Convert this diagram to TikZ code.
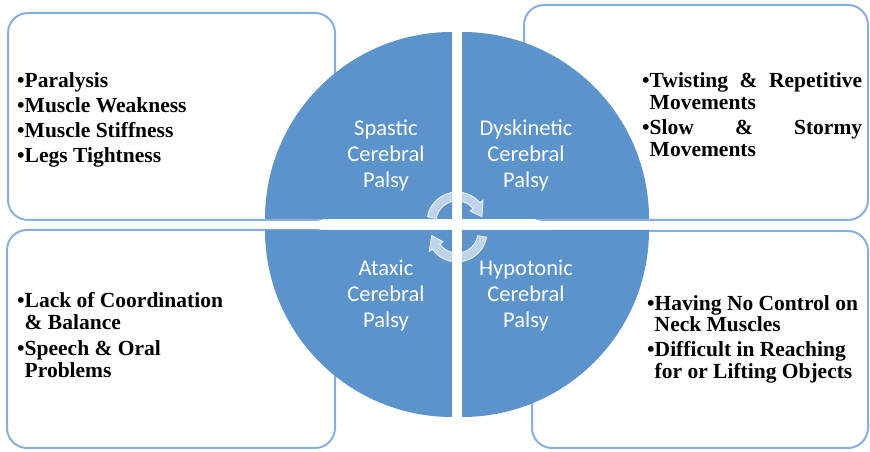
\documentclass[tikz,border=0pt]{standalone}
\usepackage{fontspec}
\setmainfont{Liberation Serif}
\newfontfamily\calib{Carlito}
\definecolor{qblue}{RGB}{92,147,203}
\definecolor{bline}{RGB}{135,176,222}
\begin{document}
\begin{tikzpicture}[x=1pt,y=1pt,
  infobox/.style={draw=bline,line width=2pt,fill=white,rounded corners=20pt,inner sep=0pt},
  quad/.style={fill=qblue},
  qtext/.style={text=white,font=\calib\fontsize{22.5}{26}\selectfont,align=center,inner sep=0pt},
  itext/.style={anchor=base west,inner sep=0pt,font=\bfseries\fontsize{21.5}{25}\selectfont},
  cyc/.style={fill=white,fill opacity=0.6,draw=white,draw opacity=0.9,line width=0.8pt}]
\useasboundingbox (0,0) rectangle (870,452);
\fill[white] (0,0) rectangle (870,452);
% boxes
\node[infobox,minimum width=327pt,minimum height=207pt] (boxTL) at (171.5,335.5) {};
\node[infobox,minimum width=344pt,minimum height=215pt] (boxTR) at (696,339.5) {};
\node[infobox,minimum width=328pt,minimum height=218pt] (boxBL) at (171,113) {};
\node[infobox,minimum width=336pt,minimum height=217pt] (boxBR) at (700,112.5) {};
% quadrants
\fill[quad] (452,233) -- (265,233) arc[start angle=180,end angle=90,radius=187] -- cycle;
\fill[quad] (462,233) -- (462,420) arc[start angle=90,end angle=0,radius=187] -- cycle;
\fill[quad] (452,222) -- (452,35) arc[start angle=270,end angle=180,radius=187] -- cycle;
\fill[quad] (462,222) -- (649,222) arc[start angle=0,end angle=-90,radius=187] -- cycle;
% quadrant labels
\node[qtext] (spastic) at (386,296) {Spastic\\Cerebral\\Palsy};
\node[qtext] (dysk) at (526,296) {Dyskinetic\\Cerebral\\Palsy};
\node[qtext] (ataxic) at (386,156) {Ataxic\\Cerebral\\Palsy};
\node[qtext] (hypo) at (526,156) {Hypotonic\\Cerebral\\Palsy};
% cycle arrows
\begin{scope}[shift={(457,230)}]
\path[cyc] (170:30) arc[start angle=170,end angle=40,radius=30] -- (40:34) -- (12:25.5) -- (40:17) -- (40:21) arc[start angle=40,end angle=170,radius=21] -- cycle;
\end{scope}
\begin{scope}[shift={(457,220)}]
\path[cyc] (-10:30) arc[start angle=-10,end angle=-145,radius=30] -- (-145:34) -- (-172:25.5) -- (-145:17) -- (-145:21) arc[start angle=-145,end angle=-10,radius=21] -- cycle;
\end{scope}
% top-left texts
\node[itext] (tl1) at (17,364) {\textbullet Paralysis};
\node[itext] (tl2) at (17,339) {\textbullet Muscle Weakness};
\node[itext] (tl3) at (17,314) {\textbullet Muscle Stiffness};
\node[itext] (tl4) at (17,289) {\textbullet Legs Tightness};
% top-right texts
\node[itext] (tr1) at (642,364) {\makebox[220pt][s]{\textbullet Twisting \& Repetitive}};
\node[itext] (tr2) at (642,342) {\phantom{\textbullet}Movements};
\node[itext] (tr3) at (642,317) {\makebox[220pt][s]{\textbullet Slow \& Stormy}};
\node[itext] (tr4) at (642,295) {\phantom{\textbullet}Movements};
% bottom-left texts
\node[itext] (bl1) at (17,144) {\textbullet Lack of Coordination};
\node[itext] (bl2) at (17,122) {\phantom{\textbullet}\& Balance};
\node[itext] (bl3) at (17,96) {\textbullet Speech \& Oral};
\node[itext] (bl4) at (17,74) {\phantom{\textbullet}Problems};
% bottom-right texts
\node[itext] (br1) at (647,141) {\textbullet Having No Control on};
\node[itext] (br2) at (647,120) {\phantom{\textbullet}Neck Muscles};
\node[itext] (br3) at (647,95) {\textbullet Difficult in Reaching};
\node[itext] (br4) at (647,73) {\phantom{\textbullet}for or Lifting Objects};
\end{tikzpicture}
\end{document}
